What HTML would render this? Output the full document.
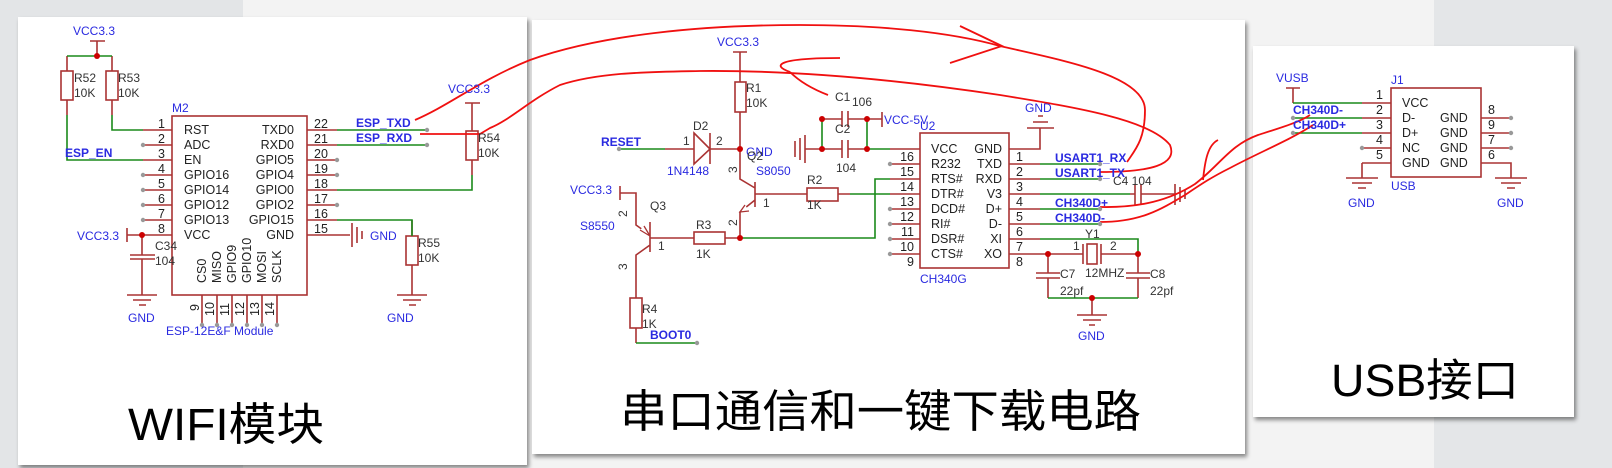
<!DOCTYPE html>
<html><head><meta charset="utf-8"><style>
html,body{margin:0;padding:0;}
body{width:1612px;height:468px;background:#f3f3f3;position:relative;overflow:hidden;font-family:"Liberation Sans","Noto Sans CJK SC",sans-serif;}
.bg1{position:absolute;left:0;top:0;width:243px;height:468px;background:#e3e5e7;}
.bg2{position:absolute;left:1434px;top:0;width:178px;height:468px;background:#e4e6e8;}
.p{position:absolute;background:#fff;box-shadow:2px 3px 4px rgba(0,0,0,.45);}
svg{position:absolute;left:0;top:0;}
</style></head><body>
<div class="bg1"></div><div class="bg2"></div>
<div class="p" style="left:18px;top:17px;width:509px;height:448px"></div>
<div class="p" style="left:532px;top:20px;width:713px;height:434px"></div>
<div class="p" style="left:1253px;top:46px;width:321px;height:371px"></div>
<svg width="1612" height="468" viewBox="0 0 1612 468" font-family="Liberation Sans, sans-serif">
<g fill="none" stroke-width="1.6">
<g stroke="#a33">
<path d="M90 41H105M97 41V56"/>
<path d="M67 56V71M112 56V71M67 100V115M112 100V115"/>
<rect x="61" y="71" width="12" height="29"/><rect x="106" y="71" width="12" height="29"/>
<rect x="172" y="116" width="135" height="179"/>
<path d="M143 130H172M143 145H172M143 160H172M143 175H172M143 190H172M143 205H172M143 220H172M127 235H172"/>
<path d="M127 228V242M142 235V255M130 255H155M130 259H155M142 259V295"/>
<path d="M127 295H157M133 300H151M139 305H146"/>
<path d="M307 130H337M307 145H337M307 160H337M307 175H337M307 190H337M307 205H337M307 220H337M307 235H350"/>
<path d="M352 223V247M357 227V243M362 231V239"/>
<path d="M465 103H480M472 103V131M472 160V175"/><rect x="466" y="131" width="12" height="29"/>
<path d="M412 236V220M412 265V295M397 295H427M403 300H421M409 305H416"/><rect x="406" y="236" width="12" height="29"/>
<path d="M202 295V325M217 295V325M232 295V325M247 295V325M262 295V325M277 295V325"/>
</g>
<g stroke="#1a8a1a">
<path d="M67 56H112M67 115V160H143M112 115V130H143M337 130H427M337 145H427M337 190H472V175M337 220H412V236"/>
</g>
<g stroke="#a33">
<path d="M733 52H747M740 52V82M740 112V179L755 188M755 182V207M755 200L740 212V238"/>
<rect x="735" y="82" width="11" height="30"/>
<path d="M665 149H694M710 149H740"/>
<path d="M694 133L710 149L694 164Z M710 133V164"/>
<path d="M755 194H807M838 194H850"/><rect x="807" y="188" width="31" height="13"/>
<path d="M620 186V200M620 193H636V225L650 235M650 222V252M650 238H694M725 238H740M650 245L636 255V298M636 328V343"/>
<rect x="694" y="232" width="31" height="12"/><rect x="630" y="298" width="12" height="30"/>
<path d="M795 141V157M800 138V160M805 135V163M805 149H822M822 119H842M848 119H867M822 149H842M848 149H867M867 119H882M882 112V127"/>
<path d="M842 111V127M848 111V127M842 140V158M848 140V158"/>
<rect x="920" y="133" width="89" height="135"/>
<path d="M890 149H920M890 164H920M890 179H920M890 194H920M890 209H920M890 224H920M890 239H920M890 254H920"/>
<path d="M1009 149H1040V128M1027 128H1054M1033 122H1048M1038 116H1043"/>
<path d="M1009 164H1040M1009 179H1040M1009 194H1040M1009 209H1040M1009 224H1040M1009 239H1040M1009 254H1083M1101 254H1138"/>
<path d="M1130 194H1135M1141 194H1175M1135 184V205M1141 184V205M1175 184V205M1180 187V202M1185 190V199"/>
<rect x="1087" y="244" width="10" height="20"/><path d="M1083 244V264M1101 244V264"/>
<path d="M1048 254V273M1036 273H1060M1036 278H1060M1048 278V298M1138 254V273M1126 273H1150M1126 278H1150M1138 278V298"/>
<path d="M1092 298V315M1077 315H1107M1083 320H1101M1089 325H1095"/>
</g>
<g stroke="#a33" fill="#fff" stroke-width="1.3"><path d="M745 205L740 212L749 211"/><path d="M640 230L650 236L644 226"/></g>
<g stroke="#1a8a1a">
<path d="M619 149H665M636 343H697M740 238H875V179H890M850 194H890M867 149H890M822 119V149M867 119V149"/>
<path d="M1040 164H1100M1040 179H1100M1040 194H1130M1040 209H1100M1040 224H1100M1040 239H1138V254M1048 298H1138"/>
</g>
<g stroke="#a33">
<path d="M1286 88H1300M1293 88V103"/>
<rect x="1391" y="88" width="90" height="89"/>
<path d="M1362 103H1391M1362 118H1391M1362 133H1391M1362 148H1391M1362 163H1391M1362 163V178M1346 178H1378M1352 183H1372M1358 188H1366"/>
<path d="M1481 118H1511M1481 133H1511M1481 148H1511M1481 163H1511V178M1495 178H1527M1501 183H1521M1507 188H1515"/>
</g>
<g stroke="#1a8a1a"><path d="M1293 103H1362M1293 118H1362M1293 133H1362"/></g>
<g stroke="#f01010" stroke-width="1.8">
<path d="M415 120C450 105 480 80 530 60C600 35 700 25 800 25C880 25 950 32 1000 46C1060 60 1145 75 1145 110C1145 140 1135 150 1127 162"/>
<path d="M960 26L1002 46L950 63"/>
<path d="M420 134H480L490 128C510 120 530 100 560 85C600 72 650 72 700 71C800 70 900 80 1000 95C1080 108 1150 120 1170 145C1178 165 1150 172 1100 172"/>
<path d="M790 72C770 65 780 58 840 58M790 72C800 82 815 90 828 95"/>
<path d="M1100 207C1140 208 1170 200 1195 184C1220 165 1230 145 1258 135C1280 128 1300 122 1310 115"/>
<path d="M1100 222C1140 222 1160 210 1185 195C1200 185 1210 178 1230 168C1260 152 1290 140 1313 125"/>
<path d="M1203 180C1205 160 1208 145 1218 140"/>
</g>
</g>
<g fill="#c00">
<circle cx="97" cy="56" r="3"/><circle cx="142" cy="235" r="3"/>
<circle cx="740" cy="149" r="3"/><circle cx="740" cy="238" r="3"/><circle cx="822" cy="149" r="3"/><circle cx="822" cy="119" r="3"/><circle cx="867" cy="119" r="3"/><circle cx="867" cy="149" r="3"/>
<circle cx="1048" cy="254" r="3"/><circle cx="1138" cy="254" r="3"/><circle cx="1092" cy="298" r="3"/>
</g>
<g fill="#999">
<circle cx="143" cy="145" r="2.2"/><circle cx="143" cy="175" r="2.2"/><circle cx="143" cy="190" r="2.2"/><circle cx="143" cy="205" r="2.2"/><circle cx="143" cy="220" r="2.2"/>
<circle cx="337" cy="160" r="2.2"/><circle cx="337" cy="175" r="2.2"/><circle cx="337" cy="205" r="2.2"/><circle cx="427" cy="130" r="2.2"/><circle cx="427" cy="145" r="2.2"/>
<circle cx="202" cy="325" r="2.2"/><circle cx="217" cy="325" r="2.2"/><circle cx="232" cy="325" r="2.2"/><circle cx="247" cy="325" r="2.2"/><circle cx="262" cy="325" r="2.2"/><circle cx="277" cy="325" r="2.2"/>
<circle cx="619" cy="149" r="2.2"/><circle cx="697" cy="343" r="2.2"/>
<circle cx="890" cy="164" r="2.2"/><circle cx="890" cy="209" r="2.2"/><circle cx="890" cy="224" r="2.2"/><circle cx="890" cy="239" r="2.2"/><circle cx="890" cy="254" r="2.2"/>
<circle cx="1100" cy="164" r="2.2"/><circle cx="1100" cy="179" r="2.2"/><circle cx="1100" cy="209" r="2.2"/><circle cx="1100" cy="224" r="2.2"/>
<circle cx="1293" cy="118" r="2.2"/><circle cx="1293" cy="133" r="2.2"/><circle cx="1362" cy="148" r="2.2"/>
<circle cx="1511" cy="118" r="2.2"/><circle cx="1511" cy="133" r="2.2"/><circle cx="1511" cy="148" r="2.2"/>
</g>
<g font-size="12" fill="#2a2ae0">
<text x="73" y="35">VCC3.3</text><text x="77" y="240">VCC3.3</text><text x="448" y="93">VCC3.3</text>
<text x="128" y="322">GND</text><text x="387" y="322">GND</text><text x="370" y="240">GND</text>
<text x="172" y="112">M2</text><text x="166" y="335">ESP-12E&amp;F Module</text>
<text x="717" y="46">VCC3.3</text><text x="570" y="194">VCC3.3</text><text x="667" y="175">1N4148</text><text x="756" y="175">S8050</text><text x="580" y="230">S8550</text>
<text x="746" y="156">GND</text><text x="884" y="124">VCC-5V</text><text x="920" y="130">U2</text><text x="920" y="283">CH340G</text>
<text x="1025" y="112">GND</text><text x="1078" y="340">GND</text>
<text x="1276" y="82">VUSB</text><text x="1391" y="84">J1</text><text x="1391" y="190">USB</text><text x="1348" y="207">GND</text><text x="1497" y="207">GND</text>
</g>
<g font-size="12" fill="#2a2ae0" font-weight="bold">
<text x="65" y="157">ESP_EN</text><text x="356" y="127">ESP_TXD</text><text x="356" y="142">ESP_RXD</text>
<text x="601" y="146">RESET</text><text x="650" y="339">BOOT0</text>
<text x="1055" y="162">USART1_RX</text><text x="1055" y="177">USART1_TX</text><text x="1055" y="207">CH340D+</text><text x="1055" y="222">CH340D-</text>
<text x="1293" y="114">CH340D-</text><text x="1293" y="129">CH340D+</text>
</g>
<g font-size="12" fill="#333">
<text x="74" y="82">R52</text><text x="74" y="97">10K</text><text x="118" y="82">R53</text><text x="118" y="97">10K</text>
<text x="478" y="142">R54</text><text x="478" y="157">10K</text><text x="418" y="247">R55</text><text x="418" y="262">10K</text>
<text x="155" y="250">C34</text><text x="155" y="265">104</text>
<text x="746" y="92">R1</text><text x="746" y="107">10K</text><text x="693" y="130">D2</text><text x="747" y="160">Q2</text><text x="650" y="210">Q3</text>
<text x="807" y="184">R2</text><text x="807" y="209">1K</text><text x="696" y="229">R3</text><text x="696" y="258">1K</text><text x="642" y="313">R4</text><text x="642" y="328">1K</text>
<text x="835" y="101">C1</text><text x="852" y="106">106</text><text x="835" y="133">C2</text><text x="836" y="172">104</text>
<text x="683" y="145">1</text><text x="716" y="145">2</text><text x="763" y="207">1</text><text x="658" y="250">1</text>
<text x="1113" y="185">C4 104</text><text x="1085" y="238">Y1</text><text x="1085" y="277">12MHZ</text><text x="1073" y="250">1</text><text x="1110" y="250">2</text>
<text x="1060" y="278">C7</text><text x="1060" y="295">22pf</text><text x="1150" y="278">C8</text><text x="1150" y="295">22pf</text>
<g transform="translate(737,173) rotate(-90)"><text>3</text></g><g transform="translate(737,226) rotate(-90)"><text>2</text></g>
<g transform="translate(627,217) rotate(-90)"><text>2</text></g><g transform="translate(627,270) rotate(-90)"><text>3</text></g>
</g>
<g font-size="12.5" fill="#222">
<text x="184" y="134">RST</text><text x="184" y="149">ADC</text><text x="184" y="164">EN</text><text x="184" y="179">GPIO16</text><text x="184" y="194">GPIO14</text><text x="184" y="209">GPIO12</text><text x="184" y="224">GPIO13</text><text x="184" y="239">VCC</text>
<g text-anchor="end"><text x="294" y="134">TXD0</text><text x="294" y="149">RXD0</text><text x="294" y="164">GPIO5</text><text x="294" y="179">GPIO4</text><text x="294" y="194">GPIO0</text><text x="294" y="209">GPIO2</text><text x="294" y="224">GPIO15</text><text x="294" y="239">GND</text>
<text x="165" y="128">1</text><text x="165" y="143">2</text><text x="165" y="158">3</text><text x="165" y="173">4</text><text x="165" y="188">5</text><text x="165" y="203">6</text><text x="165" y="218">7</text><text x="165" y="233">8</text></g>
<text x="314" y="128">22</text><text x="314" y="143">21</text><text x="314" y="158">20</text><text x="314" y="173">19</text><text x="314" y="188">18</text><text x="314" y="203">17</text><text x="314" y="218">16</text><text x="314" y="233">15</text>
<g transform="translate(206,283) rotate(-90)"><text>CS0</text></g><g transform="translate(221,283) rotate(-90)"><text>MISO</text></g><g transform="translate(236,283) rotate(-90)"><text>GPIO9</text></g><g transform="translate(251,283) rotate(-90)"><text>GPIO10</text></g><g transform="translate(266,283) rotate(-90)"><text>MOSI</text></g><g transform="translate(281,283) rotate(-90)"><text>SCLK</text></g>
<g transform="translate(199,311) rotate(-90)"><text>9</text></g><g transform="translate(214,316) rotate(-90)"><text>10</text></g><g transform="translate(229,316) rotate(-90)"><text>11</text></g><g transform="translate(244,316) rotate(-90)"><text>12</text></g><g transform="translate(259,316) rotate(-90)"><text>13</text></g><g transform="translate(274,316) rotate(-90)"><text>14</text></g>
<text x="931" y="153">VCC</text><text x="931" y="168">R232</text><text x="931" y="183">RTS#</text><text x="931" y="198">DTR#</text><text x="931" y="213">DCD#</text><text x="931" y="228">RI#</text><text x="931" y="243">DSR#</text><text x="931" y="258">CTS#</text>
<g text-anchor="end"><text x="1002" y="153">GND</text><text x="1002" y="168">TXD</text><text x="1002" y="183">RXD</text><text x="1002" y="198">V3</text><text x="1002" y="213">D+</text><text x="1002" y="228">D-</text><text x="1002" y="243">XI</text><text x="1002" y="258">XO</text>
<text x="914" y="161">16</text><text x="914" y="176">15</text><text x="914" y="191">14</text><text x="914" y="206">13</text><text x="914" y="221">12</text><text x="914" y="236">11</text><text x="914" y="251">10</text><text x="914" y="266">9</text></g>
<text x="1016" y="161">1</text><text x="1016" y="176">2</text><text x="1016" y="191">3</text><text x="1016" y="206">4</text><text x="1016" y="221">5</text><text x="1016" y="236">6</text><text x="1016" y="251">7</text><text x="1016" y="266">8</text>
<text x="1402" y="107">VCC</text><text x="1402" y="122">D-</text><text x="1402" y="137">D+</text><text x="1402" y="152">NC</text><text x="1402" y="167">GND</text>
<text x="1440" y="122">GND</text><text x="1440" y="137">GND</text><text x="1440" y="152">GND</text><text x="1440" y="167">GND</text>
<text x="1376" y="99">1</text><text x="1376" y="114">2</text><text x="1376" y="129">3</text><text x="1376" y="144">4</text><text x="1376" y="159">5</text>
<text x="1488" y="114">8</text><text x="1488" y="129">9</text><text x="1488" y="144">7</text><text x="1488" y="159">6</text>
</g>
<g fill="#000" font-family="Liberation Sans, Noto Sans CJK SC, sans-serif" font-size="45">
<text x="128" y="440" textLength="196" lengthAdjust="spacingAndGlyphs">WIFI模块</text>
<text x="620" y="427" textLength="521" lengthAdjust="spacingAndGlyphs">串口通信和一键下载电路</text>
<text x="1331" y="396" textLength="188" lengthAdjust="spacingAndGlyphs">USB接口</text>
</g>
</svg>
</body></html>
